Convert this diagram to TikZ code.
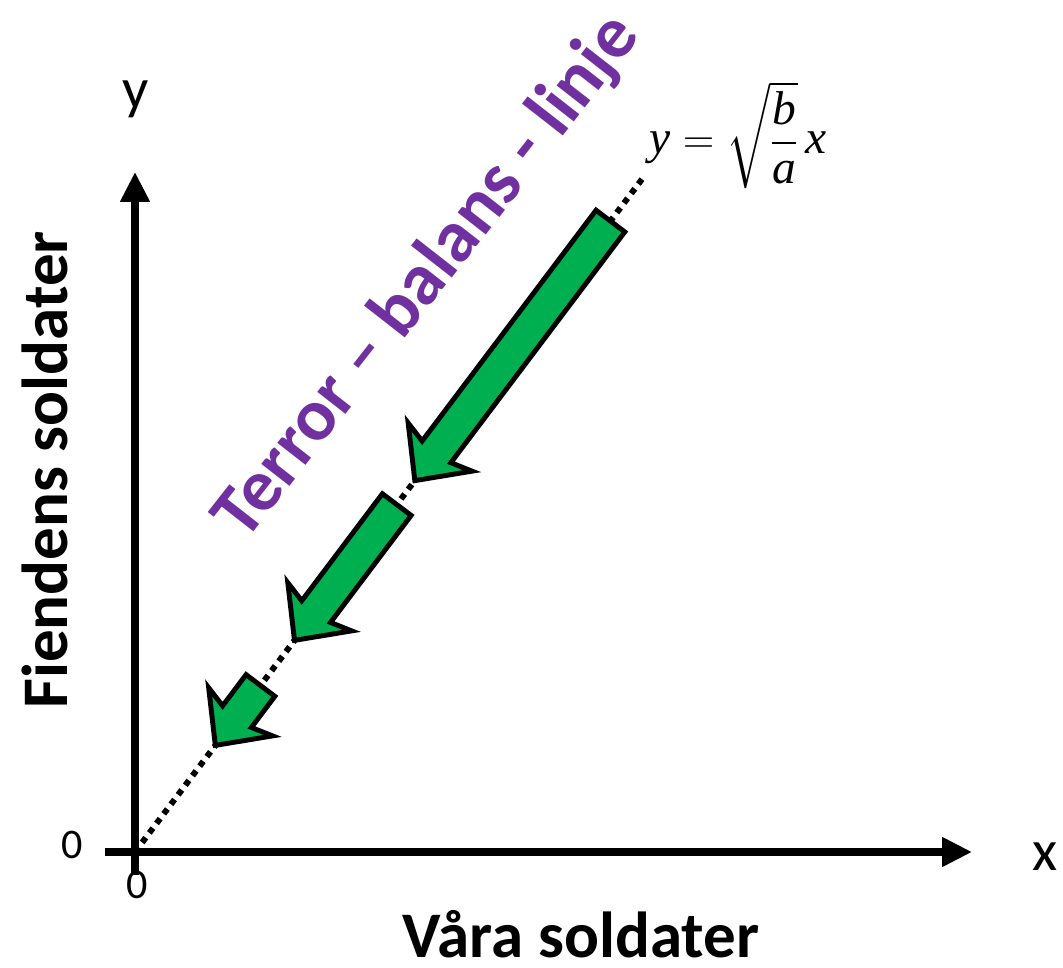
\documentclass[tikz,border=0pt]{standalone}
\usepackage{amsmath}
\usepackage{fontspec}
\setmainfont{Carlito}
\newfontfamily\tnrfont{Liberation Serif}
\newcommand{\tv}[1]{\text{\tnrfont\itshape #1}}
\usepackage{tikz}
\usetikzlibrary{arrows.meta,calc,positioning}
\definecolor{balgreen}{RGB}{0,176,80}
\definecolor{balpurple}{RGB}{112,48,160}
\tikzset{
  axis/.style={line width=4pt,-{Triangle[length=17pt,width=16pt]}},
  balline/.style={line width=3.4pt,dash pattern=on 3.4pt off 3.4pt},
  arrowbody/.style={draw=black,fill=balgreen,line width=2.8pt,line join=miter},
  bigtext/.style={font=\fontsize{37}{44}\selectfont\bfseries,inner sep=0pt},
  pics/balarrow/.style={code={
    \draw[arrowbody] (0,0.36) -- ({#1-0.72},0.36) -- ({#1-0.84},0.8) -- (#1,0)
      -- ({#1-0.84},-0.8) -- ({#1-0.72},-0.36) -- (0,-0.36) -- cycle;}}
}
\begin{document}
\begin{tikzpicture}
	\useasboundingbox (-2.70,-2.32) rectangle (18.56,17.04);
	
	% Origin and ends
	\coordinate (O) at (0,0);
	\coordinate (xend) at (16.74,0);
	\coordinate (yend) at (0,13.6);
	\coordinate (lineend) at (53:16.9);
	
	% Balance line
	\draw[balline] (O) -- (lineend);
	
	% Axes
	\draw[axis] (-0.6,0) -- (xend);
	\draw[axis] (0,-0.46) -- (yend);
	\node (xlab) at (18.2,-0.1) {\fontsize{33}{38}\selectfont x};
	\node (ylab) at (0.02,15.06) {\fontsize{33}{38}\selectfont y};
	\node (zeroy) at (-1.26,0.14) {\fontsize{24}{28}\selectfont 0};
	\node (zerox) at (0.04,-0.66) {\fontsize{24}{28}\selectfont 0};
	
	% Axis titles
	\node[bigtext,anchor=base] (xtitle) at (8.92,-2.12) {Våra soldater};
	\node[bigtext,anchor=base,rotate=90] (ytitle) at (-1.34,7.64) {Fiendens soldater};
	
	% Line label and formula
	\node[bigtext,font=\fontsize{42}{50}\selectfont\bfseries,text=balpurple,rotate=52] (linetitle) at (5.86,11.5) {Terror – balans - linje};
	\node (formula) at (12.06,14.34) {\fontsize{27}{32}\selectfont $\tv{y}=\sqrt{\dfrac{\tv{b}}{\tv{a}}}\,\tv{x}$};
	
	% Arrows down the line
	\pic[rotate=233] at (53:15.8) {balarrow=6.5};
	\pic[rotate=233] at (53:8.7) {balarrow=3.4};
	\pic[rotate=233] at (53:4.17) {balarrow=1.5};
	
\end{tikzpicture}
\end{document}
